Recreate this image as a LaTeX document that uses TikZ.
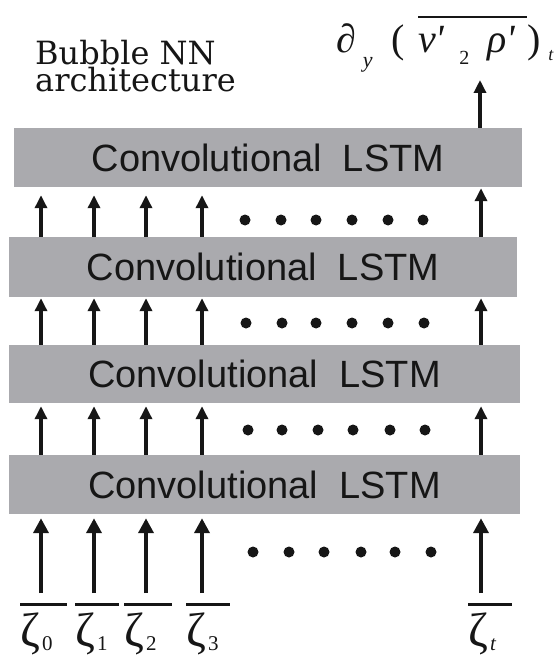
\documentclass[tikz,border=0pt]{standalone}
\usepackage{fontspec}
\setmainfont{Liberation Serif}
\setsansfont{Liberation Sans}
\newfontfamily\notefont{DejaVu Serif}
\newfontfamily\formulafont{Liberation Serif}[Ligatures=TeXOff]
\usetikzlibrary{arrows.meta}

\definecolor{layergray}{RGB}{170,170,174}
\definecolor{ink}{RGB}{22,22,22}

% overlined input symbol: width of the bar, subscript
\newcommand\zetalab[2]{\vbox{\hrule height 3pt\kern7pt
  \hbox to #1{\fontsize{48}{48}\selectfont ζ\kern2pt\raisebox{-4pt}{\fontsize{21}{21}\selectfont #2}\hfil}}}

\tikzset{
  layer/.style={fill=layergray, draw=none, inner sep=0pt, text=ink,
    font=\sffamily\fontsize{38}{38}\selectfont},
  uparrow/.style={draw=ink, line width=3.5pt, -{Triangle[length=13pt,width=12pt]}},
  inarrow/.style={draw=ink, line width=4.5pt, -{Triangle[length=15pt,width=15pt]}},
  dot/.style={circle, fill=ink, inner sep=0pt, minimum size=11pt},
  sym/.style={inner sep=0pt, anchor=north west, text=ink},
}

\begin{document}
\begin{tikzpicture}[x=1pt,y=-1pt]
\useasboundingbox (0,0) rectangle (557,660);

% column positions
\coordinate (c1) at (41,0);
\coordinate (c2) at (94,0);
\coordinate (c3) at (146,0);
\coordinate (c4) at (202,0);
\coordinate (c5) at (481,0);

% stacked ConvLSTM layers
\node[layer, minimum width=508pt, minimum height=59pt] (L1) at (268,157.5) {Convolutional\ \ LSTM};
\node[layer, minimum width=508pt, minimum height=60pt] (L2) at (263,267) {Convolutional\ \ LSTM};
\node[layer, minimum width=511pt, minimum height=58pt] (L3) at (264.5,374) {Convolutional\ \ LSTM};
\node[layer, minimum width=511pt, minimum height=59pt] (L4) at (264.5,484.5) {Convolutional\ \ LSTM};

% title (two lines, baselines at 65 and 92)
\node[anchor=base west, align=left, inner sep=0pt, text=ink,
  font=\notefont\fontsize{32}{27}\selectfont] (note) at (35,92) {Bubble NN\\architecture};

% output
\node[anchor=base west, inner sep=0pt, text=ink] (out) at (336,53)
  {\formulafont\fontsize{40}{40}\selectfont ∂\kern7pt\raisebox{-15pt}{\fontsize{22}{22}\selectfont\itshape y}\kern19pt(\kern13pt%
   \vbox{\hrule height 2pt\kern9pt\hbox{\itshape v'\kern15pt\raisebox{-12pt}{\upshape\fontsize{20}{20}\selectfont 2}\kern18pt ρ'\kern12pt}}%
   )\kern8pt\raisebox{-8pt}{\fontsize{18}{18}\selectfont\itshape t}};
\coordinate (outtip) at (480,80);
\draw[uparrow] (L1.north -| outtip) -- (outtip);

% inputs
\node[sym] (z0) at (20,603) {\zetalab{47pt}{0}};
\node[sym] (z1) at (75,603) {\zetalab{44pt}{1}};
\node[sym] (z2) at (124,603) {\zetalab{48pt}{2}};
\node[sym] (z3) at (186,603) {\zetalab{44pt}{3}};
\node[sym] (zt) at (468,603) {\zetalab{44pt}{\itshape t}};

% connections between layers
\foreach \c in {c1,c2,c3,c4} {
  \draw[uparrow, shorten >=8pt] (L2.north -| \c) -- (L1.south -| \c);
  \draw[uparrow, shorten >=1pt] (L3.north -| \c) -- (L2.south -| \c);
  \draw[uparrow, shorten >=3pt] (L4.north -| \c) -- (L3.south -| \c);
}
\draw[uparrow, shorten >=1pt] (L2.north -| c5) -- (L1.south -| c5);
\draw[uparrow, shorten >=1pt] (L3.north -| c5) -- (L2.south -| c5);
\draw[uparrow, shorten >=3pt] (L4.north -| c5) -- (L3.south -| c5);

% input arrows
\foreach \z/\c in {z0/c1,z1/c2,z2/c3,z3/c4,zt/c5}
  \draw[inarrow, shorten <=10pt, shorten >=4pt] (\z.north -| \c) -- (L4.south -| \c);

% ellipses
\foreach \i/\x in {1/245,2/281,3/316,4/352,5/388,6/423}
  \node[dot] (da\i) at (\x,220) {};
\foreach \i/\x in {1/246,2/282,3/316,4/352,5/388,6/424}
  \node[dot] (db\i) at (\x,323) {};
\foreach \i/\x in {1/248,2/282,3/318,4/353,5/390,6/425}
  \node[dot] (dc\i) at (\x,430) {};
\foreach \i/\x in {1/253,2/289,3/324,4/361,5/395,6/431}
  \node[dot] (dd\i) at (\x,552) {};
\end{tikzpicture}
\end{document}
